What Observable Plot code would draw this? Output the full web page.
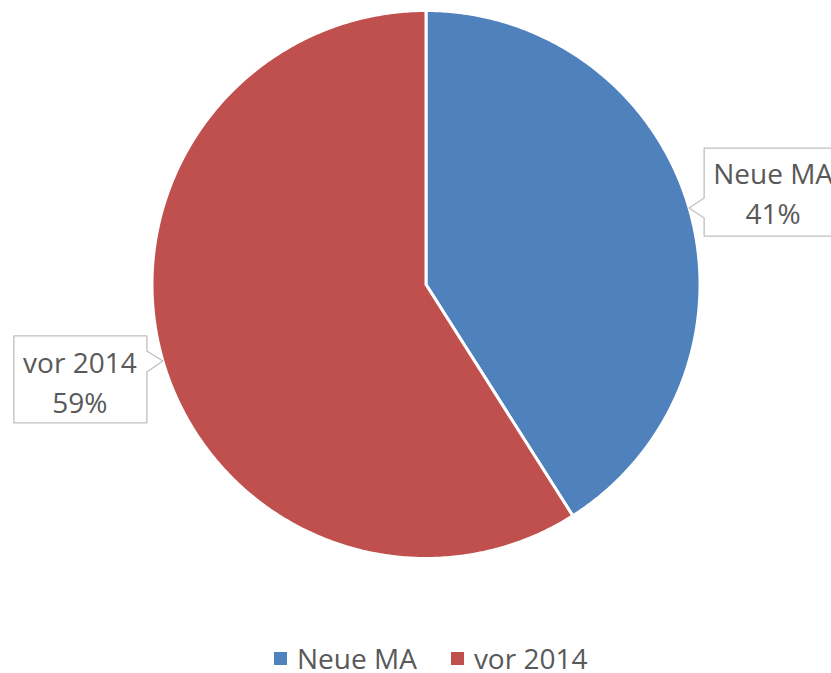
<!DOCTYPE html>
<html>
<head>
<meta charset="utf-8">
<script src="https://cdn.jsdelivr.net/npm/d3@7"></script>
<script src="https://cdn.jsdelivr.net/npm/@observablehq/plot@0.6"></script>
<style>
  html, body { margin: 0; padding: 0; background: #fff; }
  #chart svg { display: block; }
  .lg-swatches { margin: 0 !important; font-family: "Open Sans", sans-serif !important; font-size: 28px !important; line-height: 28px !important; color: #595959 !important; }
  .lg-swatches-wrap { padding-left: 274px; min-height: 0 !important; height: 28px; }
  .lg-swatch { margin-right: 34px !important; }
  .lg-swatch > svg { margin-right: 10px !important; }
</style>
</head>
<body>
<div id="chart"></div>
<script>
// ---- data ----
const categories = ["Neue MA", "vor 2014"];
const values = [41, 59];
const percentLabels = ["41%", "59%"];
const colors = ["#4F81BD", "#C0504D"];

// ---- layout ----
const W = 831, H = 644;
const R = 274, CX = 425.5, CY = 284;
const FONT = "Open Sans, sans-serif";
// callout box geometry in pixels relative to the anchor tip on the circle
const callouts = [
  {left: 15, right: 153, top: -60, bottom: 28, side: "left", p0: -10, p1: 10, tx: 84, ty: -24},
  {left: -149, right: -16, top: -25, bottom: 62, side: "right", p0: -10, p1: 11, tx: -83, ty: 12}
];

const total = d3.sum(values);
let acc = 0;
const slices = categories.map((c, i) => {
  const a0 = acc / total * 2 * Math.PI;
  acc += values[i];
  const a1 = acc / total * 2 * Math.PI;
  return {name: c, value: values[i], a0, a1, mid: (a0 + a1) / 2};
});

// slice polygons (angles clockwise from 12 o'clock)
const slicePts = [];
for (const s of slices) {
  slicePts.push({name: s.name, x: 0, y: 0});
  const n = Math.max(2, Math.ceil((s.a1 - s.a0) / (Math.PI / 360)));
  for (let k = 0; k <= n; k++) {
    const a = s.a0 + (s.a1 - s.a0) * k / n;
    slicePts.push({name: s.name, x: Math.sin(a), y: Math.cos(a)});
  }
  slicePts.push({name: s.name, x: 0, y: 0});
}

// callout polygons and texts
const boxPts = [];
const textRows = [];
slices.forEach((s, i) => {
  const tx = Math.sin(s.mid), ty = Math.cos(s.mid);
  const c = callouts[i];
  const P = (dx, dy) => ({name: s.name, x: tx + dx / R, y: ty - dy / R});
  const e = c.side === "left" ? c.left : c.right;
  const o = c.side === "left" ? c.right : c.left;
  boxPts.push({name: s.name, x: tx, y: ty}, P(e, c.p0), P(e, c.top), P(o, c.top), P(o, c.bottom), P(e, c.bottom), P(e, c.p1), {name: s.name, x: tx, y: ty});
  textRows.push({x: tx + c.tx / R, y: ty - c.ty / R, text: s.name});
  textRows.push({x: tx + c.tx / R, y: ty - (c.ty + 40) / R, text: percentLabels[i]});
});

const plot = Plot.plot({
  width: W, height: H,
  margin: 0,
  x: {domain: [-CX / R, (W - CX) / R], axis: null},
  y: {domain: [-(H - CY) / R, CY / R], axis: null},
  color: {domain: categories, range: colors},
  style: {background: "white", fontFamily: FONT},
  marks: [
    Plot.line(slicePts, {x: "x", y: "y", z: "name", fill: "name", stroke: "white", strokeWidth: 3, strokeLinejoin: "round", curve: "linear"}),
    Plot.line(boxPts, {x: "x", y: "y", z: "name", fill: "white", stroke: "#BFBFBF", strokeWidth: 1.3, curve: "linear"}),
    Plot.text(textRows, {x: "x", y: "y", text: "text", textAnchor: "middle", lineAnchor: "bottom", fontSize: 28, fill: "#595959", fontFamily: FONT})
  ]
});
document.getElementById("chart").appendChild(plot);

const legend = Plot.legend({
  color: {domain: categories, range: colors},
  legend: "swatches",
  swatchSize: 13,
  className: "lg"
});
document.getElementById("chart").appendChild(legend);
</script>
</body>
</html>
